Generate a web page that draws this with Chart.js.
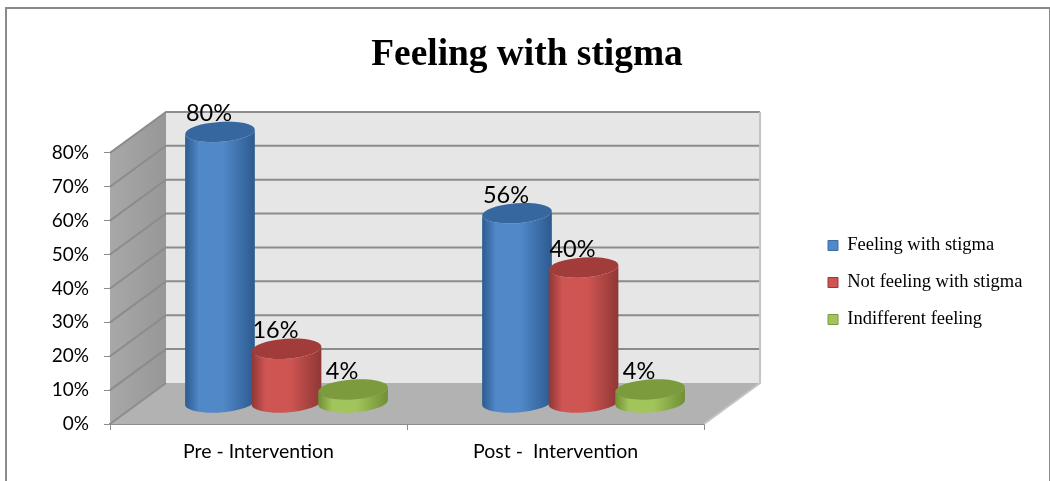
<!DOCTYPE html>
<html>
<head>
<meta charset="utf-8">
<title>Feeling with stigma</title>
<script src="https://cdn.jsdelivr.net/npm/chart.js@4"></script>
<style>
  html, body { margin: 0; padding: 0; background: #fff; }
  #wrap { position: relative; width: 1050px; height: 481px; overflow: hidden; }
  #frame { position: absolute; left: 5px; top: 7px; width: 1042px; height: 480px; border: 2px solid #8a8a8a; }
  canvas { position: absolute; left: 0; top: 0; }
</style>
</head>
<body>
<div id="wrap">
  <div id="frame"></div>
  <canvas id="chart" width="1050" height="481"></canvas>
</div>
<script>
// Chart data
const categories = ['Pre - Intervention', 'Post -  Intervention'];
const seriesNames = ['Feeling with stigma', 'Not feeling with stigma', 'Indifferent feeling'];
const feelingValues = [80, 56];
const notFeelingValues = [16, 40];
const indifferentValues = [4, 4];
const yTicks = [0, 10, 20, 30, 40, 50, 60, 70, 80];

// Cylinder colours: edge, centre, top cap, legend border
const blueShades = ['#2c5a8f', '#5088c8', '#36689f', '#3a6ca5'];
const redShades = ['#8f3735', '#cf5552', '#a23c3a', '#99393a'];
const greenShades = ['#6f8f33', '#a2c45c', '#7b9b3d', '#7a9a3c'];
const shades = [blueShades, redShades, greenShades];

// Depth of the fake 3D box
const depthX = 56;
const depthY = -41;
const barShiftX = 28;
const barShiftY = -21;

// Walls, floor and grid lines, drawn from the value scale
const wallsPlugin = {
    id: 'walls',
    beforeDatasetsDraw(chart) {
        const ctx = chart.ctx;
        const area = chart.chartArea;
        const y = chart.scales.y;
        const top = y.getPixelForValue(80);
        const zero = y.getPixelForValue(0);

        ctx.save();
        // back wall
        ctx.fillStyle = '#e6e6e6';
        ctx.fillRect(area.left + depthX, top + depthY, area.right - area.left, zero - top);

        // side wall
        const side = ctx.createLinearGradient(area.left, 0, area.left + depthX, 0);
        side.addColorStop(0, '#a8a8a8');
        side.addColorStop(1, '#979797');
        ctx.fillStyle = side;
        ctx.beginPath();
        ctx.moveTo(area.left, top);
        ctx.lineTo(area.left + depthX, top + depthY);
        ctx.lineTo(area.left + depthX, zero + depthY);
        ctx.lineTo(area.left, zero);
        ctx.closePath();
        ctx.fill();

        // floor
        ctx.fillStyle = '#b2b2b2';
        ctx.beginPath();
        ctx.moveTo(area.left, zero);
        ctx.lineTo(area.left + depthX, zero + depthY);
        ctx.lineTo(area.right + depthX, zero + depthY);
        ctx.lineTo(area.right, zero);
        ctx.closePath();
        ctx.fill();

        // grid lines along side and back
        ctx.strokeStyle = '#8c8c8c';
        ctx.lineWidth = 2;
        yTicks.forEach(v => {
            const py = y.getPixelForValue(v);
            ctx.beginPath();
            ctx.moveTo(area.left, py);
            ctx.lineTo(area.left + depthX, py + depthY);
            if (v > 0) {
                ctx.lineTo(area.right + depthX, py + depthY);
            }
            ctx.stroke();
        });
        ctx.beginPath();
        ctx.moveTo(area.right + depthX, top + depthY);
        ctx.lineTo(area.right + depthX, zero + depthY);
        ctx.lineTo(area.right, zero);
        ctx.strokeStyle = '#c4c4c4';
        ctx.stroke();
        ctx.restore();
    }
};

// Cylinders and value labels, placed from the bar elements
const cylinderPlugin = {
    id: 'cylinders',
    afterDatasetsDraw(chart) {
        const ctx = chart.ctx;
        const tilt = -0.07;
        const labels = [];

        ctx.save();
        chart.data.datasets.forEach((ds, di) => {
            chart.getDatasetMeta(di).data.forEach((bar, i) => {
                const cx = bar.x + barShiftX;
                const topY = bar.y + barShiftY;
                const baseY = bar.base + barShiftY;
                const rx = bar.width / 2;
                const ry = 10;
                const c = shades[di];

                const grad = ctx.createLinearGradient(cx - rx, 0, cx + rx, 0);
                grad.addColorStop(0, c[0]);
                grad.addColorStop(0.2, c[1]);
                grad.addColorStop(0.55, c[1]);
                grad.addColorStop(1, c[0]);

                ctx.fillStyle = grad;
                ctx.beginPath();
                ctx.ellipse(cx, baseY, rx, ry, tilt, 0, Math.PI);
                ctx.ellipse(cx, topY, rx, ry, tilt, Math.PI, 0, true);
                ctx.closePath();
                ctx.fill();

                ctx.fillStyle = c[2];
                ctx.beginPath();
                ctx.ellipse(cx, topY, rx, ry, tilt, 0, Math.PI * 2);
                ctx.fill();

                labels.push({ text: ds.data[i] + '%', x: cx - 11, y: topY - 18 });
            });
        });

        ctx.fillStyle = '#000';
        ctx.font = '23.5px Lato';
        ctx.textAlign = 'center';
        ctx.textBaseline = 'middle';
        labels.forEach(l => ctx.fillText(l.text, l.x, l.y));
        ctx.restore();
    }
};

// Move the legend and title to where the reference has them
const placePlugin = {
    id: 'place',
    afterLayout(chart) {
        const legend = chart.legend;
        const w = legend.right - legend.left;
        const h = legend.bottom - legend.top;
        legend.left = 809.5;
        legend.right = 809.5 + w;
        legend.top += 42;
        legend.bottom = legend.top + h;
        chart.titleBlock.left = 0;
        chart.titleBlock.right = 1054;
    }
};

new Chart(document.getElementById('chart'), {
    type: 'bar',
    data: {
        labels: categories,
        datasets: [
            { label: seriesNames[0], data: feelingValues, backgroundColor: 'transparent', borderWidth: 0 },
            { label: seriesNames[1], data: notFeelingValues, backgroundColor: 'transparent', borderWidth: 0 },
            { label: seriesNames[2], data: indifferentValues, backgroundColor: 'transparent', borderWidth: 0 }
        ]
    },
    options: {
        responsive: false,
        animation: false,
        layout: { padding: { left: 0, right: 123, top: 0, bottom: 0 } },
        datasets: {
            bar: { categoryPercentage: 0.672, barPercentage: 1.05 }
        },
        scales: {
            x: {
                afterFit(scale) { scale.height = 57; },
                grid: { drawOnChartArea: false, tickLength: 6, color: '#8c8c8c' },
                border: { color: '#8c8c8c', width: 2 },
                ticks: { color: '#000', padding: 10, font: { family: 'Lato', size: 19.5 } }
            },
            y: {
                min: 0,
                max: 80,
                afterFit(scale) { scale.width = 110; },
                afterBuildTicks(scale) { scale.ticks = yTicks.map(v => ({ value: v })); },
                grid: { drawOnChartArea: false, tickLength: 6, color: '#8c8c8c' },
                border: { color: '#8c8c8c', width: 1 },
                ticks: {
                    color: '#000',
                    padding: 15,
                    font: { family: 'Lato', size: 19 },
                    callback: v => v + '%'
                }
            }
        },
        plugins: {
            tooltip: { enabled: false },
            title: {
                display: true,
                text: 'Feeling with stigma',
                color: '#000',
                font: { family: 'Liberation Serif', size: 37.4, weight: 'bold' },
                padding: { top: 33, bottom: 75 }
            },
            legend: {
                position: 'right',
                labels: {
                    boxWidth: 10,
                    boxHeight: 10,
                    padding: 18.5,
                    color: '#000',
                    font: { family: 'Liberation Serif', size: 18.5 },
                    generateLabels() {
                        return seriesNames.map((name, i) => ({
                            text: name,
                            fillStyle: shades[i][1],
                            strokeStyle: shades[i][3],
                            lineWidth: 1,
                            fontColor: '#000',
                            datasetIndex: i
                        }));
                    }
                }
            }
        }
    },
    plugins: [wallsPlugin, cylinderPlugin, placePlugin]
});
</script>
</body>
</html>
